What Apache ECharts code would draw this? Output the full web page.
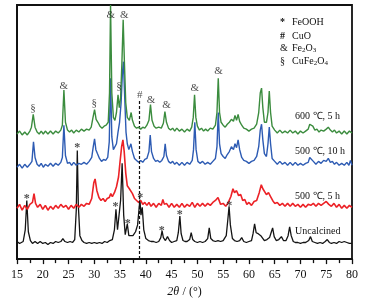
<!DOCTYPE html>
<html>
<head>
<meta charset="utf-8">
<script src="https://cdn.jsdelivr.net/npm/echarts@6/dist/echarts.min.js"></script>
<style>html,body{margin:0;background:#fff}#c{width:370px;height:303px}</style>
</head>
<body>
<div id="c"></div>
<script>
const SERIF = '"Liberation Serif","Times New Roman",serif';

// XRD patterns, [2theta, offset intensity]
const uncalcined = [[15,18],[15.5,16],[16.2,18],[16.6,30],[16.9,60],[17.2,28],[17.6,19],[18,16],[18.5,18],[19,16],[19.5,18],[20,16],[20.5,17],[21,15],[21.5,17],[22,16],[22.5,18],[23,17],[23.5,18],[23.9,21],[24.3,18],[24.8,17],[25.3,18],[25.8,17],[26.2,20],[26.5,50],[26.7,111],[26.9,55],[27.2,24],[27.6,19],[28,17],[28.5,16],[29,17],[29.5,16],[30,17],[30.5,16],[31,17],[31.5,16],[32,18],[32.5,17],[33,19],[33.5,20],[33.9,30],[34.2,51],[34.5,30],[34.8,28],[35.1,60],[35.4,98],[35.7,45],[36,25],[36.4,36],[36.7,24],[37,22],[37.5,24],[38,28],[38.4,35],[38.85,61],[39.05,45],[39.3,53],[39.6,30],[40,21],[40.5,19],[41,18],[41.5,18],[42,17],[42.5,18],[42.9,22],[43.15,29],[43.4,22],[43.8,19],[44.2,23],[44.6,19],[45,17],[45.5,18],[46,19],[46.3,27],[46.6,44],[46.85,26],[47.2,19],[47.6,18],[48,18],[48.5,20],[48.8,27],[49.1,20],[49.5,18],[50,17],[50.5,18],[51,17],[51.5,18],[52,21],[52.3,32],[52.6,21],[53,19],[53.5,18],[54,19],[54.5,18],[55,19],[55.6,24],[55.9,40],[56.15,54],[56.4,35],[56.8,21],[57.2,19],[57.7,18],[58.2,19],[58.6,22],[59,18],[59.5,17],[60,18],[60.5,19],[60.8,26],[61.1,36],[61.4,27],[61.8,26],[62.3,24],[62.6,22],[63,19],[63.5,20],[64,22],[64.3,27],[64.6,32],[64.9,23],[65.3,19],[65.8,20],[66.3,23],[66.7,19],[67.2,19],[67.6,24],[67.9,33],[68.2,24],[68.6,18],[69,17],[69.5,17],[70,16],[70.5,17],[71,17],[71.6,19],[71.95,23],[72.3,18],[72.8,17],[73.3,16],[73.8,17],[74.3,16],[74.8,18],[75.2,20],[75.6,17],[76,16],[76.5,17],[77,16],[77.5,18],[78,17],[78.5,18],[79,17],[79.5,16],[80,16]];

const c500h5 = [[15,52],[15.5,56],[16,50],[16.5,55],[17,51],[17.5,56],[18,58],[18.3,67],[18.6,57],[19,53],[19.5,56],[20,51],[20.5,55],[21,50],[21.5,54],[22,51],[22.5,55],[23,52],[23.5,56],[24,53],[24.5,55],[25,51],[25.5,55],[26,52],[26.5,56],[27,53],[27.5,56],[28,54],[28.5,57],[29,56],[29.5,62],[29.9,78],[30.15,82],[30.5,70],[30.9,63],[31.3,60],[31.7,62],[32.1,59],[32.5,62],[32.9,63],[33.2,67],[33.5,64],[33.9,68],[34.3,74],[34.7,84],[35,100],[35.3,115],[35.55,122],[35.8,110],[36.1,88],[36.4,75],[36.8,72],[37.1,74],[37.4,67],[37.8,62],[38.2,60],[38.6,58],[39,60],[39.4,56],[39.8,58],[40.2,55],[40.6,58],[41,54],[41.5,57],[42,53],[42.5,57],[43,55],[43.3,61],[43.6,56],[44,57],[44.5,53],[45,57],[45.5,53],[46,56],[46.5,53],[47,57],[47.5,53],[48,56],[48.5,54],[49,58],[49.5,53],[50,57],[50.5,54],[51,57],[51.5,54],[52,57],[52.5,55],[53,58],[53.5,60],[54,63],[54.5,56],[55,57],[55.5,54],[56,58],[56.5,64],[56.9,72],[57.2,68],[57.6,70],[58,65],[58.4,66],[58.8,60],[59.2,61],[59.6,56],[60,58],[60.5,55],[61,59],[61.5,60],[62,68],[62.4,76],[62.7,72],[63,70],[63.4,66],[63.8,68],[64.2,64],[64.6,60],[65,57],[65.5,58],[66,55],[66.5,57],[67,54],[67.5,57],[68,54],[68.5,57],[69,54],[69.5,56],[70,53],[70.5,56],[71,53],[71.5,56],[72,55],[72.5,57],[73,54],[73.5,57],[74,55],[74.5,57],[75,59],[75.5,56],[76,54],[76.5,57],[77,53],[77.5,56],[78,52],[78.5,55],[79,52],[79.5,55],[80,53]];

const c500h10 = [[15,94],[15.5,97],[16,93],[16.5,97],[17,94],[17.5,97],[17.9,100],[18.2,120],[18.5,104],[18.9,97],[19.3,95],[19.7,98],[20.1,94],[20.5,97],[21,95],[21.5,98],[22,95],[22.5,98],[23,96],[23.5,99],[23.8,104],[24.1,137],[24.4,106],[24.8,98],[25.2,99],[25.6,96],[26,99],[26.5,96],[27,98],[27.5,97],[28,99],[28.5,97],[29,100],[29.5,104],[29.8,115],[30.05,123],[30.3,112],[30.6,108],[31,103],[31.4,100],[31.8,102],[32.2,101],[32.6,104],[32.9,120],[33.15,185],[33.4,125],[33.7,112],[34,110],[34.3,118],[34.6,130],[34.9,140],[35.2,160],[35.45,190],[35.65,202],[35.9,165],[36.15,130],[36.4,118],[36.7,112],[37.1,118],[37.4,110],[37.8,103],[38.2,101],[38.6,99],[39,101],[39.4,99],[39.8,102],[40.2,103],[40.6,110],[40.85,127],[41.1,110],[41.5,103],[41.9,100],[42.3,101],[42.7,99],[43.1,101],[43.5,105],[43.75,118],[44,106],[44.4,100],[44.8,98],[45.2,100],[45.6,97],[46,99],[46.5,96],[47,99],[47.5,96],[48,99],[48.5,97],[49,101],[49.25,112],[49.5,140],[49.75,112],[50.1,100],[50.5,98],[51,100],[51.5,97],[52,99],[52.5,97],[53,100],[53.5,103],[53.8,115],[54.05,150],[54.3,118],[54.6,108],[55,105],[55.4,103],[55.8,107],[56.2,110],[56.6,115],[57,112],[57.3,118],[57.6,114],[57.9,122],[58.2,112],[58.6,104],[59,101],[59.5,100],[60,98],[60.5,100],[61,101],[61.5,105],[61.9,115],[62.2,132],[62.45,138],[62.7,122],[63,108],[63.4,105],[63.7,118],[63.95,135],[64.2,118],[64.5,103],[65,100],[65.5,97],[66,100],[66.5,97],[67,99],[67.5,96],[68,99],[68.5,96],[69,99],[69.5,96],[70,98],[70.5,96],[71,98],[71.5,99],[71.8,104],[72.1,103],[72.5,100],[73,97],[73.5,100],[74,98],[74.5,101],[75,100],[75.4,103],[75.8,99],[76.2,100],[76.6,97],[77,99],[77.5,96],[78,98],[78.5,96],[79,99],[79.4,96],[79.7,101],[80,96]];

const c600h5 = [[15,128],[15.5,131],[16,127],[16.5,130],[17,127],[17.5,131],[17.8,135],[18.15,148],[18.5,135],[18.9,130],[19.3,128],[19.7,131],[20.1,128],[20.5,131],[21,128],[21.5,131],[22,128],[22.5,131],[23,129],[23.5,132],[23.8,137],[24.1,173],[24.4,140],[24.8,132],[25.2,130],[25.6,132],[26,129],[26.5,132],[27,130],[27.5,133],[28,131],[28.5,133],[29,132],[29.4,135],[29.75,145],[30.05,153],[30.35,143],[30.7,140],[31.1,136],[31.5,134],[31.9,136],[32.3,137],[32.7,140],[32.95,170],[33.15,260],[33.4,170],[33.7,145],[34,142],[34.3,150],[34.6,168],[34.85,155],[35.1,165],[35.35,200],[35.6,245],[35.85,200],[36.1,160],[36.4,145],[36.8,142],[37.15,150],[37.4,142],[37.8,136],[38.2,134],[38.6,135],[39,133],[39.4,135],[39.8,134],[40.2,137],[40.6,142],[40.9,158],[41.2,142],[41.6,136],[42,134],[42.5,135],[43,134],[43.4,139],[43.7,151],[44,140],[44.4,134],[44.8,132],[45.2,134],[45.6,131],[46,134],[46.5,131],[47,133],[47.5,130],[48,133],[48.5,131],[48.9,135],[49.2,145],[49.45,168],[49.7,145],[50,136],[50.4,132],[50.8,134],[51.2,131],[51.6,133],[52,131],[52.5,134],[53,133],[53.5,137],[53.8,150],[54.05,185],[54.3,150],[54.6,140],[55,137],[55.4,135],[55.8,138],[56.2,140],[56.6,143],[57,141],[57.3,147],[57.6,142],[57.9,148],[58.2,141],[58.6,137],[59,134],[59.5,133],[60,131],[60.5,133],[61,134],[61.5,138],[61.9,150],[62.2,170],[62.45,175],[62.7,155],[63,140],[63.4,140],[63.7,150],[63.95,172],[64.2,150],[64.5,136],[65,132],[65.5,129],[66,132],[66.5,129],[67,131],[67.5,129],[68,132],[68.5,129],[69,131],[69.5,128],[70,131],[70.5,129],[71,131],[71.5,133],[71.8,138],[72.1,140],[72.4,136],[72.8,132],[73.2,133],[73.6,130],[74,132],[74.5,131],[75,133],[75.4,135],[75.8,132],[76.2,130],[76.6,132],[77,129],[77.5,131],[78,128],[78.5,131],[79,128],[79.5,131],[80,129]];

const seriesNames = ['Uncalcined', '500 ℃, 5 h', '500 ℃, 10 h', '600 ℃, 5 h'];
const seriesData = [uncalcined, c500h5, c500h10, c600h5];
const seriesColors = ['#141414', '#ec2227', '#2d5bb3', '#3b8c3e'];
const seriesWidths = [1.3, 1.6, 1.4, 1.4];

// phase marks above the 600 ℃ pattern
const phaseMarks = ['§', '&', '§', '&', '§', '&', '#', '&', '&', '&', '&'];
const phaseMarkX = [18.1, 24.1, 30.0, 33.2, 34.8, 35.8, 38.8, 41.0, 44.0, 49.5, 54.1];
const phaseMarkY = [155, 177, 160, 250, 177, 250, 168, 163, 158, 175, 192];

// FeOOH stars on the uncalcined pattern
const starX = [16.9, 26.7, 34.1, 36.5, 38.9, 43.1, 46.6, 56.2];
const starY = [65, 117, 56, 39, 66, 32, 48, 58];

// dashed CuO guide: 2theta, from, to
const cuoLine = [38.8, 0, 162];

const xTicks = { min: 15, max: 80, interval: 5 };

const chart = echarts.init(document.getElementById('c'));

const lineSeries = seriesNames.map((name, i) => ({
  name,
  type: 'line',
  data: seriesData[i],
  showSymbol: false,
  symbol: 'none',
  silent: true,
  z: 2 + i,
  lineStyle: { color: seriesColors[i], width: seriesWidths[i] },
}));

lineSeries[0].markLine = {
  silent: true,
  symbol: 'none',
  label: { show: false },
  lineStyle: { color: '#111', width: 1.2, type: [3, 2] },
  data: [[{ coord: [cuoLine[0], cuoLine[1]] }, { coord: [cuoLine[0], cuoLine[2]] }]],
};

const markLabel = {
  show: true,
  position: 'inside',
  color: '#222',
  fontFamily: SERIF,
  fontSize: 11,
};

chart.setOption({
  backgroundColor: '#fff',
  animation: false,
  grid: { left: 17, right: 18, top: 5, bottom: 38, show: true, borderColor: '#111', borderWidth: 1.8 },
  xAxis: {
    type: 'value',
    ...xTicks,
    name: '{i|2θ} {n|/ (°)}',
    nameLocation: 'middle',
    nameGap: 26,
    nameTextStyle: {
      rich: {
        i: { fontFamily: SERIF, fontStyle: 'italic', fontSize: 12, color: '#111' },
        n: { fontFamily: SERIF, fontSize: 12, color: '#111' },
      },
    },
    axisLine: { lineStyle: { color: '#111', width: 2 } },
    axisTick: { show: true, length: 5, lineStyle: { color: '#111', width: 1.3 } },
    minorTick: { show: true, splitNumber: 2, length: 4, lineStyle: { color: '#111', width: 1.3 } },
    axisLabel: { color: '#111', fontFamily: SERIF, fontSize: 12, margin: 10 },
    splitLine: { show: false },
  },
  yAxis: {
    type: 'value',
    min: 0,
    max: 260,
    axisLine: { show: true, lineStyle: { color: '#111', width: 2 } },
    axisTick: { show: false },
    axisLabel: { show: false },
    splitLine: { show: false },
  },
  series: [
    ...lineSeries,
    {
      type: 'scatter',
      silent: true,
      z: 10,
      symbolSize: 0.1,
      itemStyle: { color: 'transparent' },
      label: markLabel,
      data: phaseMarks.map((m, i) => ({ name: m, value: [phaseMarkX[i], phaseMarkY[i]], label: { formatter: m } })),
    },
    {
      type: 'scatter',
      silent: true,
      z: 10,
      symbolSize: 0.1,
      itemStyle: { color: 'transparent' },
      label: { ...markLabel, fontWeight: 'bold', fontSize: 12, offset: [0, 3], formatter: '*' },
      data: starX.map((x, i) => [x, starY[i]]),
    },
  ],
  graphic: [
    ...[['*', 23], ['#', 37], ['&', 49], ['§', 62]].map(([t, y]) => ({
      type: 'text', left: 280, top: y - 6, silent: true,
      style: { text: t, fontFamily: SERIF, fontSize: 10, fontWeight: t === '*' || t === '#' ? 'bold' : 'normal', fill: '#111' },
    })),
    ...[['FeOOH', 23], ['CuO', 37], ['{a|Fe}{s|2}{a|O}{s|3}', 49], ['{a|CuFe}{s|2}{a|O}{s|4}', 62]].map(([t, y]) => ({
      type: 'text', left: 292, top: y - 6, silent: true,
      style: {
        text: t, fontFamily: SERIF, fontSize: 10, fill: '#111',
        rich: {
          a: { fontFamily: SERIF, fontSize: 10, fill: '#111' },
          s: { fontFamily: SERIF, fontSize: 7, fill: '#111', padding: [5, 0, 0, 0] },
        },
      },
    })),
    ...[[3, 117], [2, 152], [1, 197], [0, 232]].map(([i, y]) => ({
      type: 'text', left: 295, top: y - 6, silent: true,
      style: { text: seriesNames[i], fontFamily: SERIF, fontSize: 10, fill: '#111' },
    })),
  ],
});
</script>
</body>
</html>
